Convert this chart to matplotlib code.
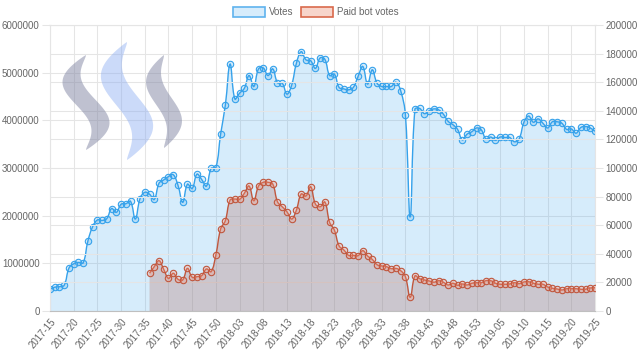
import numpy as np
import matplotlib
matplotlib.use('Agg')
import matplotlib.pyplot as plt
from matplotlib.patches import Patch, Polygon, PathPatch
from matplotlib.path import Path
from matplotlib.ticker import FuncFormatter

# week labels (year-week), one point per week
weeks = ([f"2017-{w:02d}" for w in range(15, 53)] +
         [f"2018-{w:02d}" for w in range(1, 54)] +
         [f"2019-{w:02d}" for w in range(1, 26)])

votes = [460000, 500000, 510000, 540000, 900000, 990000, 1020000, 1010000, 1470000, 1770000,
         1910000, 1900000, 1940000, 2150000, 2070000, 2240000, 2250000, 2300000, 1930000, 2360000,
         2490000, 2450000, 2340000, 2680000, 2750000, 2820000, 2860000, 2640000, 2280000, 2660000,
         2570000, 2870000, 2760000, 2620000, 2990000, 3010000, 3710000, 4320000, 5180000, 4450000,
         4570000, 4670000, 4940000, 4710000, 5080000, 5100000, 4940000, 5080000, 4790000, 4780000,
         4550000, 4740000, 5200000, 5440000, 5270000, 5250000, 5090000, 5310000, 5280000, 4940000,
         4970000, 4690000, 4660000, 4640000, 4690000, 4920000, 5130000, 4760000, 5060000, 4780000,
         4710000, 4710000, 4710000, 4800000, 4620000, 4110000, 1970000, 4230000, 4250000, 4140000,
         4200000, 4240000, 4220000, 4130000, 3980000, 3910000, 3810000, 3590000, 3710000, 3760000,
         3840000, 3800000, 3610000, 3650000, 3580000, 3650000, 3640000, 3640000, 3550000, 3610000,
         3960000, 4090000, 3960000, 4030000, 3940000, 3840000, 3970000, 3970000, 3940000, 3810000,
         3820000, 3730000, 3850000, 3870000, 3840000, 3770000]

# paid bot votes start in week 2017-36
paid_start = "2017-36"
paid_votes = [26400, 31000, 35200, 29100, 22800, 26400, 22200, 21700, 29800, 23600,
              24000, 24700, 29400, 27500, 39200, 57300, 63200, 77600, 78300, 78100,
              82300, 87400, 77100, 87400, 90000, 90000, 88800, 76400, 72900, 69400,
              64300, 70600, 81800, 80400, 86900, 74800, 72900, 76200, 62000, 56600,
              45500, 42700, 38900, 38900, 38700, 42200, 38500, 36100, 32400, 31500,
              31000, 29600, 29800, 28200, 24000, 9600, 24500, 22600, 21700, 21000,
              20100, 21200, 20100, 18200, 19400, 18000, 18900, 18200, 19400, 19800,
              19800, 21200, 21200, 19400, 18700, 18700, 18900, 19800, 19100, 20300,
              20500, 19400, 18700, 18700, 16800, 15900, 15400, 14700, 15600, 15600,
              15600, 15200, 15200, 16100, 16300]

blue = '#36a2eb'
blue_fill = (54/255, 162/255, 235/255, 0.2)
red = '#c0573e'
red_fill = (178/255, 113/255, 104/255, 0.3)
grid_c = '#e5e5e5'
txt_c = '#666666'

plt.rcParams['font.family'] = ['Liberation Sans', 'DejaVu Sans']
plt.rcParams['font.size'] = 7

W, H = 545, 286  # plot area in pixels


def smooth(xs, ys, ymax, tension=0.4):
    """bezier path through the points, like chart.js line tension"""
    sx = W / (len(weeks) - 1)
    sy = H / ymax
    px = np.asarray(xs, float) * sx
    py = np.asarray(ys, float) * sy
    n = len(px)
    cpp, cpn = [], []
    for i in range(n):
        a, b = max(i - 1, 0), min(i + 1, n - 1)
        d01 = np.hypot(px[i] - px[a], py[i] - py[a])
        d12 = np.hypot(px[b] - px[i], py[b] - py[i])
        tot = d01 + d12
        fa = tension * (d01 / tot if tot else 0)
        fb = tension * (d12 / tot if tot else 0)
        dx, dy = px[b] - px[a], py[b] - py[a]
        cpp.append((px[i] - fa * dx, np.clip(py[i] - fa * dy, 0, H)))
        cpn.append((px[i] + fb * dx, np.clip(py[i] + fb * dy, 0, H)))
    verts = [(px[0], py[0])]
    codes = [Path.MOVETO]
    for i in range(n - 1):
        verts += [cpn[i], cpp[i + 1], (px[i + 1], py[i + 1])]
        codes += [Path.CURVE4] * 3
    verts = np.array(verts) / [sx, sy]
    return verts, codes


def draw_series(a, xs, ys, ymax, col, fill, mfc):
    verts, codes = smooth(xs, ys, ymax)
    area = np.vstack([verts, [[xs[-1], 0], [xs[0], 0], [xs[0], 0]]])
    acodes = codes + [Path.LINETO, Path.LINETO, Path.CLOSEPOLY]
    a.add_patch(PathPatch(Path(area, acodes), fc=fill, lw=0, zorder=2))
    a.add_patch(PathPatch(Path(verts, codes), fc='none', ec=col, lw=1, zorder=3))
    a.plot(xs, ys, ls='none', marker='o', ms=4.6, mfc=mfc, mec=col, mew=0.8, zorder=4)


fig = plt.figure(figsize=(6.4, 3.61), dpi=100)
ax = fig.add_axes([50/640, 1 - 311/361, W/640, H/361])
ax2 = ax.twinx()

x = np.arange(len(weeks))
i0 = weeks.index(paid_start)
xr = x[i0:i0 + len(paid_votes)]

draw_series(ax, x, votes, 6000000, blue, blue_fill, blue_fill)
draw_series(ax2, xr, paid_votes, 200000, red, red_fill, (1, 0.6, 0.5, 0.3))

ax.set_xlim(0, len(weeks) - 1)
ax.set_ylim(0, 6000000)
ax2.set_ylim(0, 200000)
ax.set_yticks(np.arange(0, 6000001, 1000000))
ax2.set_yticks(np.arange(0, 200001, 20000))
plain = FuncFormatter(lambda v, p: f"{int(v)}")
ax.yaxis.set_major_formatter(plain)
ax2.yaxis.set_major_formatter(plain)
ax.set_xticks(x[::5])
ax.set_xticklabels(weeks[::5], rotation=50, ha='right', rotation_mode='anchor')

for a in (ax, ax2):
    a.tick_params(axis='y', length=6, width=0.75, color=grid_c, labelcolor=txt_c, pad=1.5)
    a.tick_params(axis='x', length=0, labelcolor=txt_c, pad=4)
    for s in a.spines.values():
        s.set_color(grid_c)
        s.set_linewidth(0.75)
    a.spines['bottom'].set_color('#bfbfbf')
    a.set_axisbelow(True)

ax.grid(True, color=grid_c, lw=0.75, zorder=0)
ax2.grid(True, axis='y', color=grid_c, lw=0.75, zorder=0)
ax2.grid(False, axis='x')
ax2.patch.set_visible(False)

# steem logo in the top left corner
logo = fig.add_axes([0, 0, 1, 1], zorder=5)
logo.set_xlim(0, 640)
logo.set_ylim(361, 0)
logo.axis('off')
t = np.linspace(0, 1, 80)
for cx, y0, h, amp, wd, col in [(86, 55, 95, 14, 24, (0.50, 0.52, 0.64, 0.5)),
                                (127, 42, 118, 15, 28, (0.55, 0.68, 0.95, 0.45)),
                                (164, 55, 93, 10, 20, (0.50, 0.52, 0.64, 0.5))]:
    cxl = cx - amp * np.sin(2 * np.pi * t)
    w = wd * np.sin(np.pi * t) ** 0.8
    yy = y0 + h * t
    pts = np.concatenate([np.column_stack([cxl - w / 2, yy]),
                          np.column_stack([cxl + w / 2, yy])[::-1]])
    logo.add_patch(Polygon(pts, closed=True, fc=col, ec='none'))

handles = [Patch(fc='#d7ecfb', ec='#5fb3ee', lw=1.2, label='Votes'),
           Patch(fc='#f7d5cb', ec='#d9694c', lw=1.2, label='Paid bot votes')]
fig.legend(handles=handles, loc='center', bbox_to_anchor=(0.493, 1 - 12/361), ncol=2,
           frameon=False, handlelength=3.3, handleheight=1.2, columnspacing=0.8,
           handletextpad=0.4, labelcolor=txt_c, fontsize=7)

fig.savefig('out.png', dpi=100)
